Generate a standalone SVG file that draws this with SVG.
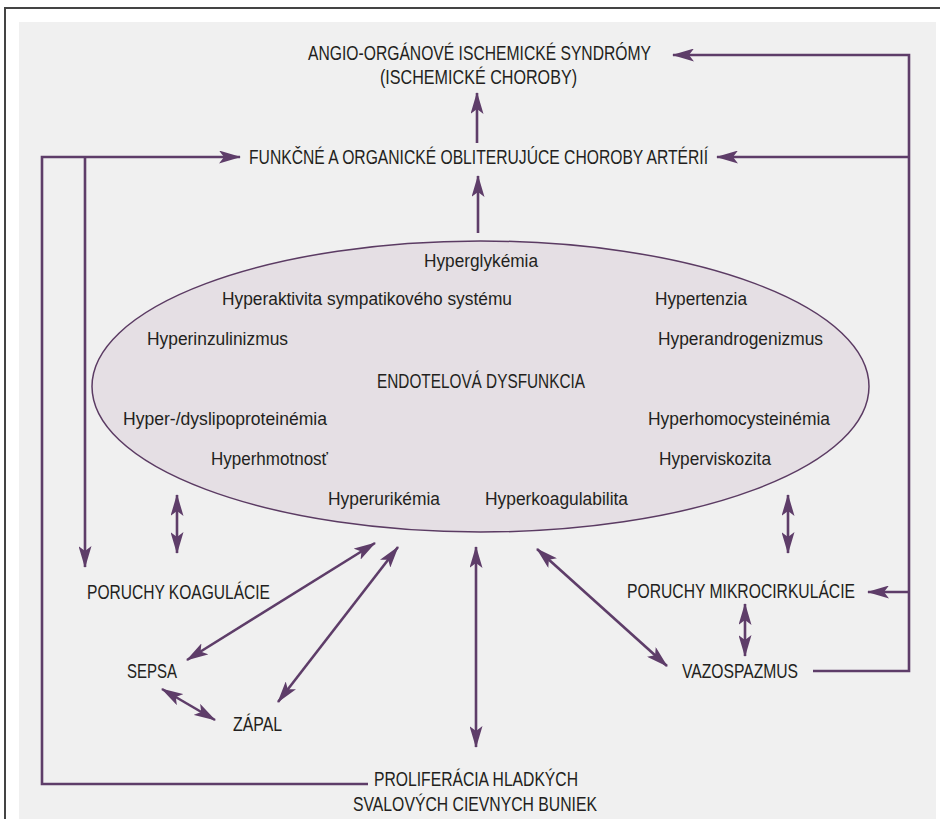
<svg xmlns="http://www.w3.org/2000/svg" width="940" height="819" viewBox="0 0 940 819">
<style>
.cap{font-family:"Liberation Sans",Arial,sans-serif;font-size:21px;fill:#231f20}
.it{font-family:"Liberation Sans",Arial,sans-serif;font-size:17.5px;fill:#231f20}
.ln{fill:none;stroke:#5e3d69;stroke-width:2.6}
.one{marker-end:url(#ah)}
.two{marker-start:url(#ah);marker-end:url(#ah)}
</style>
<defs>
<marker id="ah" viewBox="0 0 22 13" markerWidth="22" markerHeight="13" refX="21" refY="6.5" orient="auto-start-reverse" markerUnits="userSpaceOnUse">
<path d="M0,0 L22,6.5 L0,13 L5,6.5 z" fill="#5e3d69"/>
</marker>
</defs>
<rect x="0" y="0" width="940" height="819" fill="#ffffff"/>
<path d="M5,819 V8 H940" fill="none" stroke="#444" stroke-width="2"/>
<rect x="19" y="22" width="917" height="797" fill="#f0f0f0"/>

<g id="endotel">
<ellipse cx="480.5" cy="386.5" rx="388.5" ry="145.5" fill="#e5dfe4" stroke="#5b3b63" stroke-width="1.5"/>
<text class="cap" x="377" y="388" textLength="208" lengthAdjust="spacingAndGlyphs">ENDOTELOVÁ DYSFUNKCIA</text>
<text class="it" x="424" y="267" textLength="114" lengthAdjust="spacingAndGlyphs">Hyperglykémia</text>
<text class="it" x="222" y="305" textLength="290" lengthAdjust="spacingAndGlyphs">Hyperaktivita sympatikového systému</text>
<text class="it" x="655" y="305" textLength="92" lengthAdjust="spacingAndGlyphs">Hypertenzia</text>
<text class="it" x="147" y="345" textLength="141" lengthAdjust="spacingAndGlyphs">Hyperinzulinizmus</text>
<text class="it" x="658" y="345" textLength="165" lengthAdjust="spacingAndGlyphs">Hyperandrogenizmus</text>
<text class="it" x="123" y="425" textLength="204" lengthAdjust="spacingAndGlyphs">Hyper-/dyslipoproteinémia</text>
<text class="it" x="648" y="425" textLength="182" lengthAdjust="spacingAndGlyphs">Hyperhomocysteinémia</text>
<text class="it" x="211" y="465" textLength="117" lengthAdjust="spacingAndGlyphs">Hyperhmotnosť</text>
<text class="it" x="659" y="465" textLength="112" lengthAdjust="spacingAndGlyphs">Hyperviskozita</text>
<text class="it" x="328" y="505" textLength="112" lengthAdjust="spacingAndGlyphs">Hyperurikémia</text>
<text class="it" x="485" y="505" textLength="143" lengthAdjust="spacingAndGlyphs">Hyperkoagulabilita</text>
</g>

<g id="angio">
<text class="cap" x="308" y="60" textLength="343" lengthAdjust="spacingAndGlyphs">ANGIO-ORGÁNOVÉ ISCHEMICKÉ SYNDRÓMY</text>
<text class="cap" x="380" y="84" textLength="197" lengthAdjust="spacingAndGlyphs">(ISCHEMICKÉ CHOROBY)</text>
</g>
<g id="funkcne">
<text class="cap" x="249" y="164" textLength="459" lengthAdjust="spacingAndGlyphs">FUNKČNÉ A ORGANICKÉ OBLITERUJÚCE CHOROBY ARTÉRIÍ</text>
</g>
<g id="koagulacia">
<text class="cap" x="87" y="599" textLength="183" lengthAdjust="spacingAndGlyphs">PORUCHY KOAGULÁCIE</text>
</g>
<g id="mikrocirkulacia">
<text class="cap" x="627" y="598" textLength="228" lengthAdjust="spacingAndGlyphs">PORUCHY MIKROCIRKULÁCIE</text>
</g>
<g id="sepsa">
<text class="cap" x="127" y="678" textLength="50" lengthAdjust="spacingAndGlyphs">SEPSA</text>
</g>
<g id="zapal">
<text class="cap" x="233" y="731" textLength="49" lengthAdjust="spacingAndGlyphs">ZÁPAL</text>
</g>
<g id="vazospazmus">
<text class="cap" x="682" y="678" textLength="116" lengthAdjust="spacingAndGlyphs">VAZOSPAZMUS</text>
</g>
<g id="proliferacia">
<text class="cap" x="374" y="786" textLength="204" lengthAdjust="spacingAndGlyphs">PROLIFERÁCIA HLADKÝCH</text>
<text class="cap" x="353" y="811" textLength="244" lengthAdjust="spacingAndGlyphs">SVALOVÝCH CIEVNYCH BUNIEK</text>
</g>

<g id="connectors">
<line class="ln one" x1="477" y1="143" x2="477" y2="93"/>
<line class="ln one" x1="478" y1="233" x2="478" y2="176"/>
<polyline class="ln one" points="813,671 909,671 909,55 673,55"/>
<line class="ln one" x1="909" y1="157" x2="717" y2="157"/>
<line class="ln one" x1="909" y1="592" x2="868" y2="592"/>
<polyline class="ln one" points="368,784 42,784 42,157 240,157"/>
<line class="ln one" x1="85" y1="157" x2="85" y2="567"/>
<line class="ln two" x1="177" y1="495" x2="177" y2="553"/>
<line class="ln two" x1="788" y1="495" x2="788" y2="553"/>
<line class="ln two" x1="375" y1="543" x2="187" y2="660"/>
<line class="ln two" x1="398" y1="547" x2="278" y2="702"/>
<line class="ln two" x1="162" y1="689" x2="215" y2="720"/>
<line class="ln two" x1="476" y1="547" x2="476" y2="747"/>
<line class="ln two" x1="537" y1="549" x2="667" y2="666"/>
<line class="ln two" x1="745" y1="604" x2="745" y2="656"/>
</g>
</svg>
